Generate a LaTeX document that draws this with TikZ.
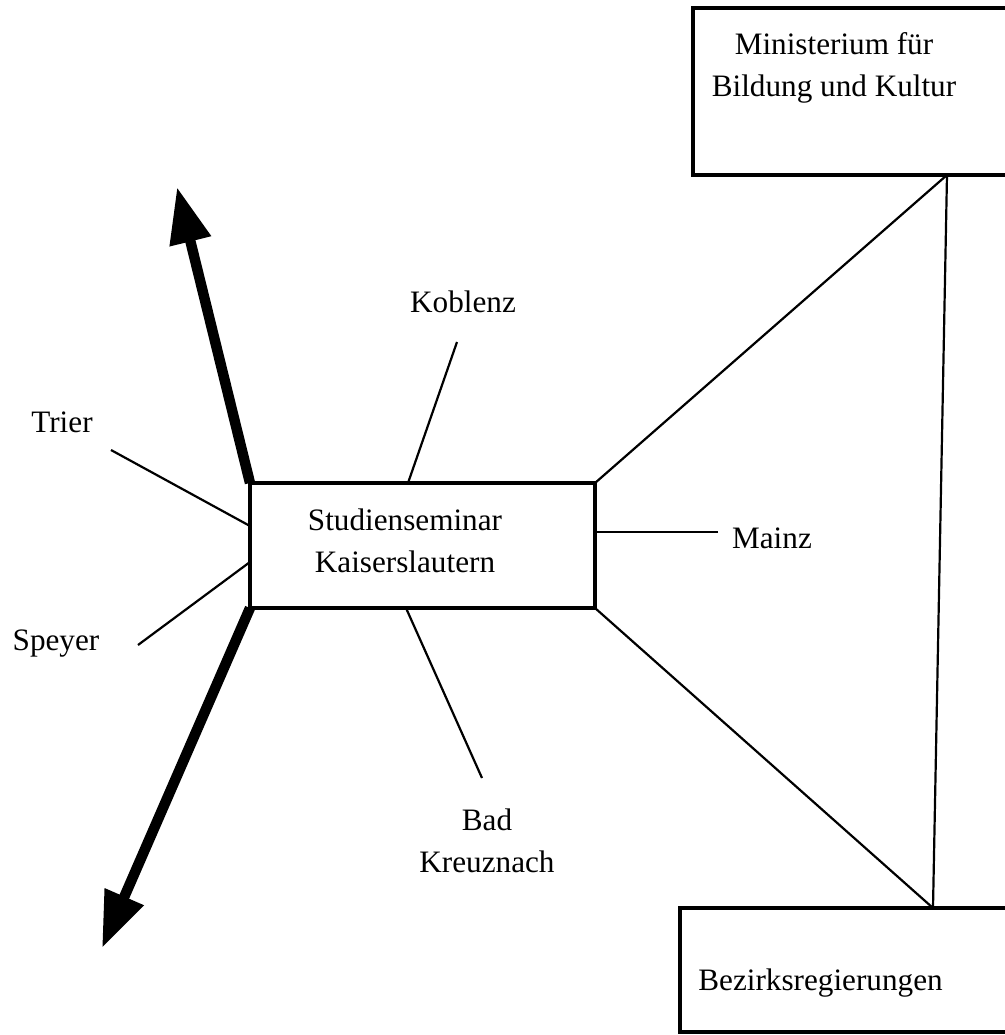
\documentclass[tikz,border=0pt]{standalone}
\usepackage{fontspec}
\setmainfont{Liberation Serif}
\usetikzlibrary{arrows.meta}
\tikzset{
	box/.style={draw, line width=2pt, rectangle, inner sep=0pt, outer sep=0pt},
	lbl/.style={inner sep=0pt, font=\fontsize{15.6}{21}\selectfont, align=center},
	conn/.style={line width=1.1pt},
	bigarrow/.style={line width=5.2pt, -{Triangle[length=28pt, width=20pt]}}
}
\begin{document}
\begin{tikzpicture}[x=0.5pt, y=-0.5pt]
	\useasboundingbox (0,0) rectangle (1005,1035);
	\clip (0,0) rectangle (1005,1035);
	\node[box, minimum width=160pt, minimum height=83.5pt] at (853,91.5) (ministerium) {};
	\node[box, minimum width=167.5pt, minimum height=62pt] at (847.5,970) (bezirk) {};
	\node[box, minimum width=172.5pt, minimum height=62.5pt] at (422.5,545.5) (seminar) {};
	\node[lbl] at (834,68) (ministeriumtext) {Ministerium für\\Bildung und Kultur};
	\node[lbl, anchor=base west] at (698,990) (bezirktext) {Bezirksregierungen};
	\node[lbl] at (405,541) (seminartext) {Studienseminar\\Kaiserslautern};
	\node[lbl, anchor=base] at (463,312) (koblenz) {Koblenz};
	\node[lbl, anchor=base] at (62,432) (trier) {Trier};
	\node[lbl, anchor=base] at (56,650) (speyer) {Speyer};
	\node[lbl, anchor=base] at (772,548) (mainz) {Mainz};
	\node[lbl] at (487,841) (badkreuznach) {Bad\\Kreuznach};
	\coordinate (mfoot) at (947,175);
	\coordinate (bhead) at (933,908);
	\coordinate (koblenzend) at (457,342);
	\coordinate (koblenzfoot) at (408,483);
	\coordinate (trierend) at (111,450);
	\coordinate (trierfoot) at (250,526);
	\coordinate (speyerend) at (138,645);
	\coordinate (speyerfoot) at (250,562);
	\coordinate (mainzend) at (718,532);
	\coordinate (mainzfoot) at (595,532);
	\coordinate (badend) at (482,778);
	\coordinate (badfoot) at (406,608);
	\coordinate (uptip) at (177,187);
	\coordinate (downtip) at (102,948);
	
	\draw [conn] (mfoot) -- (bhead);
	\draw [conn] (mfoot) -- (seminar.north east);
	\draw [conn] (seminar.south east) -- (bhead);
	\draw [conn] (koblenzend) -- (koblenzfoot);
	\draw [conn] (trierend) -- (trierfoot);
	\draw [conn] (speyerend) -- (speyerfoot);
	\draw [conn] (mainzend) -- (mainzfoot);
	\draw [conn] (badend) -- (badfoot);
	\draw [bigarrow] (seminar.north west) -- (uptip);
	\draw [bigarrow] (seminar.south west) -- (downtip);
	
\end{tikzpicture}
\end{document}
